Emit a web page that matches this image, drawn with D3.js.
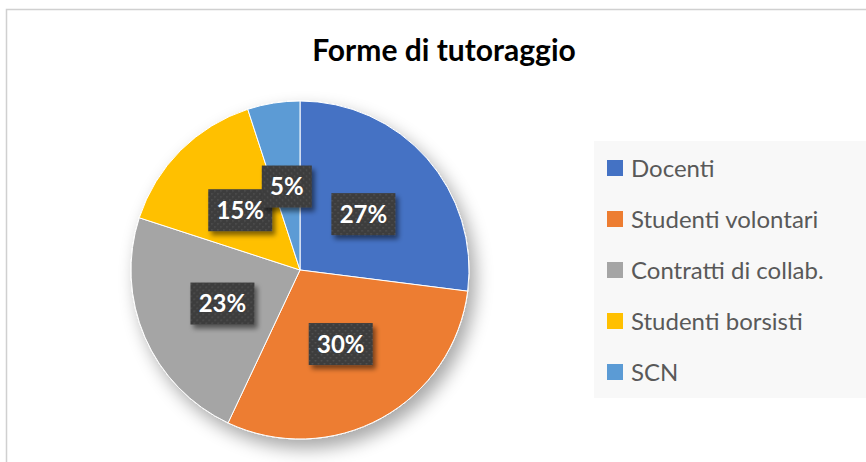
<!DOCTYPE html>
<html>
<head>
<meta charset="utf-8">
<script src="https://cdn.jsdelivr.net/npm/d3@7"></script>
<style>
  html, body { margin: 0; padding: 0; background: #fff; }
  svg { display: block; }
</style>
</head>
<body>
<svg id="chart" width="866" height="462"></svg>
<script>
// Shares of each tutoring form (percent)
const categories = ["Docenti", "Studenti volontari", "Contratti di collab.", "Studenti borsisti", "SCN"];
const values = [27, 30, 23, 15, 5];
const colors = ["#4472C4", "#ED7D31", "#A5A5A5", "#FFC000", "#5B9BD5"];
const title = "Forme di tutoraggio";

const svg = d3.select("#chart");
const W = 866, H = 462;
const font = "Lato, 'Open Sans', 'Noto Sans', sans-serif";

// Chart frame
svg.append("rect")
  .attr("x", 6.5).attr("y", 9.5)
  .attr("width", W + 10).attr("height", H + 10)
  .attr("fill", "#fff").attr("stroke", "#d0d0d0").attr("stroke-width", 1.5);

const defs = svg.append("defs");

// Soft shadow for the pie
const pf = defs.append("filter").attr("id", "pieShadow")
  .attr("x", "-20%").attr("y", "-20%").attr("width", "150%").attr("height", "150%");
pf.append("feGaussianBlur").attr("in", "SourceAlpha").attr("stdDeviation", 9).attr("result", "b");
pf.append("feOffset").attr("in", "b").attr("dx", 6).attr("dy", 9).attr("result", "o");
pf.append("feComponentTransfer").attr("in", "o").attr("result", "s")
  .append("feFuncA").attr("type", "linear").attr("slope", 0.35);
const pm = pf.append("feMerge");
pm.append("feMergeNode").attr("in", "s");
pm.append("feMergeNode").attr("in", "SourceGraphic");

// Shadow for label boxes
const lf = defs.append("filter").attr("id", "lblShadow")
  .attr("x", "-30%").attr("y", "-30%").attr("width", "170%").attr("height", "170%");
lf.append("feGaussianBlur").attr("in", "SourceAlpha").attr("stdDeviation", 2.5).attr("result", "b");
lf.append("feOffset").attr("in", "b").attr("dx", 3).attr("dy", 4).attr("result", "o");
lf.append("feComponentTransfer").attr("in", "o").attr("result", "s")
  .append("feFuncA").attr("type", "linear").attr("slope", 0.5);
const lm = lf.append("feMerge");
lm.append("feMergeNode").attr("in", "s");
lm.append("feMergeNode").attr("in", "SourceGraphic");

// Dotted texture for label boxes
const pat = defs.append("pattern").attr("id", "dots")
  .attr("patternUnits", "userSpaceOnUse").attr("width", 6).attr("height", 6);
pat.append("rect").attr("width", 6).attr("height", 6).attr("fill", "#3d3d3d");
pat.append("rect").attr("x", 1).attr("y", 1).attr("width", 1.4).attr("height", 1.4).attr("fill", "#555");
pat.append("rect").attr("x", 4).attr("y", 4).attr("width", 1.4).attr("height", 1.4).attr("fill", "#555");

// Title
svg.append("text")
  .attr("x", 444).attr("y", 61)
  .attr("text-anchor", "middle")
  .attr("font-family", font).attr("font-weight", "bold")
  .attr("font-size", 30).attr("fill", "#000")
  .text(title);

// Pie
const cx = 300, cy = 270, R = 169;
const pie = d3.pie().sort(null).value(d => d);
const arcs = pie(values);
const arc = d3.arc().innerRadius(0).outerRadius(R);

const g = svg.append("g").attr("transform", `translate(${cx},${cy})`);
g.append("g").attr("filter", "url(#pieShadow)")
  .selectAll("path").data(arcs).join("path")
  .attr("d", arc)
  .attr("fill", (d, i) => colors[i])
  .attr("stroke", "#fff").attr("stroke-width", 1);

// Percentage labels
const lg = g.append("g").selectAll("g").data(arcs).join("g")
  .attr("transform", d => `translate(${arc.centroid(d)})`);
lg.append("rect")
  .attr("x", d => d.data < 10 ? -25 : -32)
  .attr("y", -21)
  .attr("width", d => d.data < 10 ? 50 : 64)
  .attr("height", 42)
  .attr("fill", "url(#dots)")
  .attr("filter", "url(#lblShadow)");
lg.append("text")
  .attr("text-anchor", "middle").attr("dy", "0.36em")
  .attr("font-family", font).attr("font-weight", "bold")
  .attr("font-size", 24).attr("fill", "#fff")
  .text(d => d.data + "%");

// Legend
const legend = svg.append("g");
legend.append("rect")
  .attr("x", 594).attr("y", 141).attr("width", 280).attr("height", 257)
  .attr("fill", "#f8f8f8");
const step = 51;
const items = legend.selectAll("g.item").data(categories).join("g")
  .attr("class", "item")
  .attr("transform", (d, i) => `translate(607,${168 + i * step})`);
items.append("rect")
  .attr("x", 0).attr("y", -8).attr("width", 16).attr("height", 16)
  .attr("fill", (d, i) => colors[i]);
items.append("text")
  .attr("x", 24).attr("dy", "0.36em")
  .attr("font-family", font).attr("font-size", 24)
  .attr("fill", "#595959")
  .text(d => d);
</script>
</body>
</html>
